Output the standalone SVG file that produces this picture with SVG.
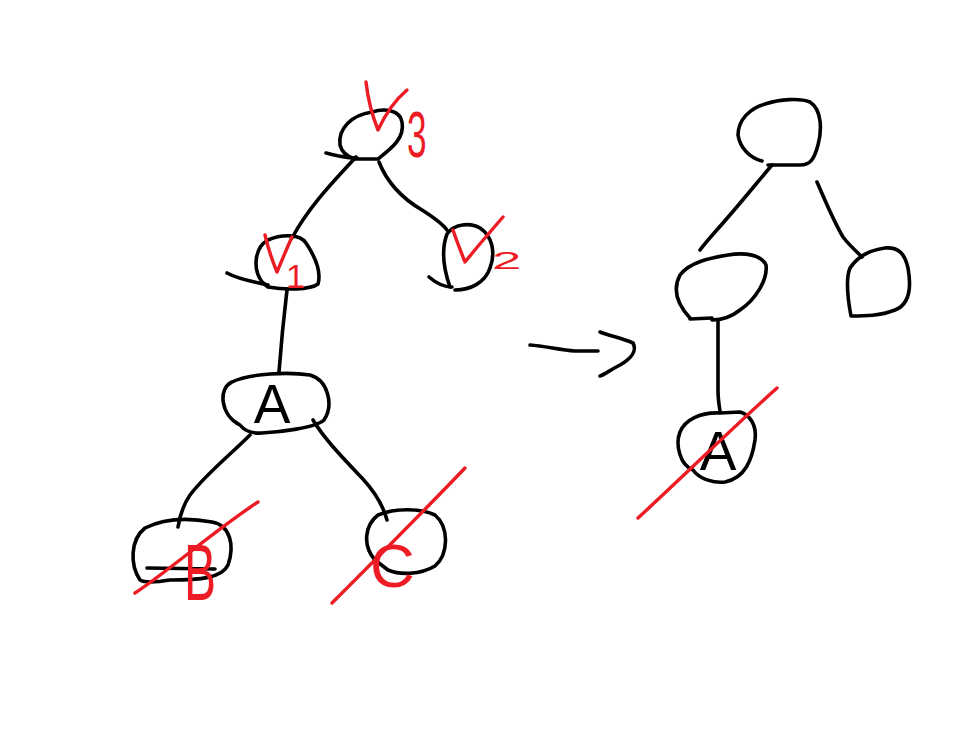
<svg xmlns="http://www.w3.org/2000/svg" width="961" height="746" viewBox="0 0 961 746">
<style>
.k{fill:none;stroke:#000;stroke-width:3.6;stroke-linecap:round;stroke-linejoin:round}
.r{fill:none;stroke:#ed1c24;stroke-width:3.4;stroke-linecap:round;stroke-linejoin:round}
.tk{font-family:"Liberation Sans",Arial,sans-serif;fill:#000}
.tr{font-family:"Liberation Sans",Arial,sans-serif;fill:#ed1c24}
</style>
<rect width="961" height="746" fill="#fff"/>
<g id="connectors">
<path class="k" d="M356,157 C335,180 310,205 292,238"/>
<path class="k" d="M379,162 C388,185 405,200 422,210 C433,217 442,223 447,230"/>
<path class="k" d="M287,290 C284,315 281,345 279,372"/>
<path class="k" d="M250,435 C230,455 205,475 190,495 C183,505 180,515 178,527"/>
<path class="k" d="M313,420 C325,440 345,460 362,478 C375,492 383,505 387,520"/>
<path class="k" d="M530,345 C545,346 560,350 575,351 L598,351"/>
<path class="k" d="M600,332 C610,336 622,338 633,343 C637,350 632,358 620,365 C610,370 604,375 600,376"/>
<path class="k" d="M772,165 C755,185 735,210 715,232 C708,240 703,246 700,250"/>
<path class="k" d="M817,182 C825,200 833,220 843,237 C850,246 857,252 862,257"/>
<path class="k" d="M718,320 L718,390 C718,398 719,405 720,411"/>
</g>
<g id="n-root-left">
<path class="k" d="M355,159 L378,159 C392,148 405,138 402,122 C400,110 385,108 372,112 C352,115 338,128 340,145 C342,153 348,157 355,159"/>
<path class="k" d="M326,153 C335,155 345,158 357,158"/>
<path class="r" d="M366,82 C368,100 372,115 378,130 C385,115 395,100 407,90"/>
<text class="tr" transform="translate(407,157) scale(0.55,1)" font-size="64">3</text>
</g>
<g id="n-v1">
<path class="k" d="M262,282 C252,268 255,247 268,240 C282,234 300,234 306,243 C314,255 322,270 318,284 C310,290 285,290 268,287 Z"/>
<path class="k" d="M227,273 C240,280 255,282 268,285"/>
<path class="r" d="M265,235 C268,248 272,260 277,272 C282,260 287,248 292,237"/>
<text class="tr" x="286" y="288" font-size="34">1</text>
</g>
<g id="n-v2">
<path class="k" d="M450,287 C444,270 441,250 447,234 C454,224 470,222 480,228 C492,236 496,252 490,268 C485,283 470,290 455,290"/>
<path class="k" d="M429,277 C436,283 443,287 452,287"/>
<path class="r" d="M453,230 C457,242 461,252 465,262 C477,247 490,232 503,217"/>
<text class="tr" transform="translate(492,269) scale(2.2,1)" font-size="24">2</text>
</g>
<g id="n-a-left">
<path class="k" d="M240,425 C220,415 218,388 232,382 C250,373 290,372 310,375 C328,380 334,405 324,420 C315,428 280,432 262,433 C250,434 244,430 240,425 Z"/>
<text class="tk" x="272" y="423" font-size="55" text-anchor="middle">A</text>
</g>
<g id="n-b">
<path class="k" d="M140,580 C130,565 130,540 145,528 C165,518 190,518 212,522 C230,525 235,545 228,565 C222,578 200,580 170,580 C158,582 145,583 140,580 Z"/>
<path class="k" d="M147,568 L215,569"/>
<text class="tr" transform="translate(184,600) scale(0.6,1)" font-size="80">B</text>
<path class="r" d="M135,593 C170,570 215,530 258,502"/>
</g>
<g id="n-c">
<path class="k" d="M375,560 C362,545 365,525 378,515 C395,508 420,508 435,515 C450,528 448,555 435,566 C420,575 400,575 388,570 Z"/>
<text class="tr" x="370" y="587" font-size="62">C</text>
<path class="r" d="M332,603 C375,560 420,515 465,468"/>
</g>
<g id="n-root-right">
<path class="k" d="M762,161 C750,158 740,148 738,135 C738,120 750,108 765,104 C780,99 800,98 810,102 C822,110 822,130 818,145 C814,160 810,165 800,165 L768,165"/>
</g>
<g id="n-left-right">
<path class="k" d="M690,318 C678,305 672,290 680,275 C690,262 710,258 728,255 C745,252 762,255 766,265 C768,280 755,300 740,310 C730,318 720,320 712,320"/>
<path class="k" d="M690,319 L712,318"/>
</g>
<g id="n-right-right">
<path class="k" d="M851,316 C848,300 845,280 850,268 C858,256 870,250 885,248 C900,247 905,255 908,268 C912,290 908,305 895,310 C880,316 865,316 851,316"/>
</g>
<g id="n-a-right">
<path class="k" d="M720,413 C700,412 685,420 680,432 C675,445 680,465 693,470 C700,480 715,483 725,482 C745,478 752,460 755,440 C757,425 750,415 740,412 Z"/>
<text class="tk" x="718" y="470" font-size="55" text-anchor="middle">A</text>
<path class="r" d="M638,518 C685,475 730,430 777,388"/>
</g>
</svg>
